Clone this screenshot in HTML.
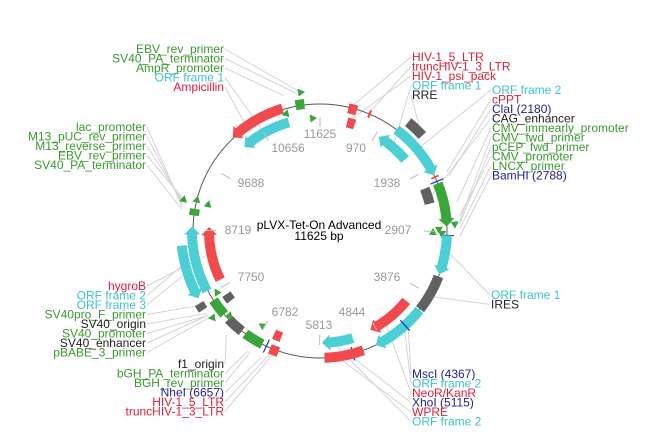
<!DOCTYPE html>
<html><head><meta charset="utf-8"><style>
body{margin:0;background:#fff;width:670px;height:448px;overflow:hidden}
svg{display:block}
text{font-family:"Liberation Sans",Arial,sans-serif;font-size:12px}
</style></head><body>
<svg id="s" width="670" height="448" xmlns="http://www.w3.org/2000/svg">
<g id="lead" stroke="#d4d4d4" stroke-width="1" fill="none"></g>
<circle cx="320" cy="231" r="127" fill="none" stroke="#555" stroke-width="1"/>
<g id="feat"></g>
<g id="ticks" stroke="#bbb" stroke-width="1"></g>
<g fill="#999" text-anchor="middle">
<text x="320" y="138">11625</text><text x="356" y="152">970</text><text x="387" y="187">1938</text>
<text x="398" y="234">2907</text><text x="387" y="281">3876</text><text x="352" y="316">4844</text>
<text x="319" y="329">5813</text><text x="285" y="316">6782</text><text x="251" y="281">7750</text>
<text x="238" y="234">8719</text><text x="251" y="187">9688</text><text x="288" y="152">10656</text>
</g>
<g fill="#000" text-anchor="middle"><text x="319" y="229">pLVX-Tet-On Advanced</text><text x="319" y="240">11625 bp</text></g>
<g id="labels"></g>
</svg>
<script>
var cx=320,cy=231,NS="http://www.w3.org/2000/svg";
function P(r,a){a=a*Math.PI/180;return [cx+r*Math.sin(a),cy-r*Math.cos(a)];}
function f(p){return p[0].toFixed(1)+","+p[1].toFixed(1);}
function add(g,tag,at,txt){var e=document.createElementNS(NS,tag);for(var k in at)e.setAttribute(k,at[k]);if(txt)e.textContent=txt;document.getElementById(g).appendChild(e);return e;}
var C={r:"#f04a4f",c:"#4ccfd4",g:"#3aa63a",k:"#616161"};
function band(a1,a2,r,col,arrow,w){w=w||10;var h=8/r*180/Math.PI;var b1=a1,b2=a2;
 if(arrow=="s")b1=a1+h; if(arrow=="e")b2=a2-h;
 var ro=r+w/2,ri=r-w/2,lg=(b2-b1)>180?1:0;
 var d="M"+f(P(ro,b1))+" A"+ro+","+ro+" 0 "+lg+" 1 "+f(P(ro,b2));
 if(arrow=="e")d+=" L"+f(P(ro+3,b2))+" L"+f(P(r,a2))+" L"+f(P(ri-3,b2));
 d+=" L"+f(P(ri,b2))+" A"+ri+","+ri+" 0 "+lg+" 0 "+f(P(ri,b1));
 if(arrow=="s")d+=" L"+f(P(ri-3,b1))+" L"+f(P(r,a1))+" L"+f(P(ro+3,b1));
 d+="Z";add("feat","path",{d:d,fill:C[col]});}
function tri(a,r,dir,col){var h=7/r*180/Math.PI;var d="M"+f(P(r+4,a))+" L"+f(P(r-4,a))+" L"+f(P(r,a+dir*h))+"Z";add("feat","path",{d:d,fill:C[col||"g"]});}
function bl(a){add("feat","line",{x1:P(120,a)[0],y1:P(120,a)[1],x2:P(134,a)[0],y2:P(134,a)[1],stroke:"#2233bb","stroke-width":1.2});}
band(317,343,128,"r","s");band(318,344,113,"c","s");
band(349,353,128,"g");tri(345,122,-1);tri(355,113,1);tri(351,140,1);
band(13,17,126,"r");band(14,18,112,"r");band(22.5,23.5,127,"r",null,8);
band(32,50,111,"c","s");band(39,47,140,"k");band(37,64,127,"c","e");
band(64.5,65.3,127,"r",null,8);bl(67);bl(92);
band(68,76,113,"k");band(68,88,127,"g","e");tri(88,119,1);tri(90,122,1);tri(86,135,1);tri(92,113,-1);
band(92,110,127,"c","e");band(111,128,127,"k");band(128.5,154,127,"c","e");band(129,153,111,"r","e");
bl(138);bl(165);band(160,178,127,"r");band(163,179,112,"c","e");
band(200,204,113,"r");band(199,203,128,"r");bl(205);
band(207,216,127,"g");tri(210,111,1);band(218,226,127,"k");
band(229,237,127,"g");band(232,236,113,"k");band(236,239,141,"k");tri(228,124,-1);tri(238,120,1);tri(232,138,-1);
band(241,264,139,"c","s");band(242,272,128,"c","e");band(244,272,111,"r","e");
band(277,280,127,"g");tri(283,127,1);tri(282,115,1);tri(282,140,1);
for(var i=0;i<12;i++){var a=i*30.03;var p1=P(104,a),p2=P(114,a);add("ticks","line",{x1:p1[0],y1:p1[1],x2:p2[0],y2:p2[1]});}
var G="#3a9a2e",R="#e0203a",Cy="#3cc4cc",N="#22229a",K="#222";
function grp(x,y0,anchor,items,target){items.forEach(function(it,i){var y=y0+i*9.5;
 add("labels","text",{x:x,y:y+4,fill:it[1],"text-anchor":anchor},it[0]);
 var t=P(it[3]||140,it[2]);var lx=anchor=="end"?x+1:x-1;
 add("lead","line",{x1:lx,y1:y,x2:t[0],y2:t[1]});});}
grp(224,49,"end",[["EBV_rev_primer",G,352],["SV40_PA_terminator",G,350],["AmpR_promoter",G,345],["ORF frame 1",Cy,330,118],["Ampicillin",R,325,132]]);
grp(146,127,"end",[["lac_promoter",G,280],["M13_pUC_rev_primer",G,281],["M13_reverse_primer",G,282],["EBV_rev_primer",G,283],["SV40_PA_terminator",G,279]]);
grp(146,286,"end",[["hygroB",R,258,115],["ORF frame 2",Cy,258,132],["ORF frame 3",Cy,252,144],["SV40pro_F_primer",G,238],["SV40_origin",K,234],["SV40_promoter",G,233],["SV40_enhancer",K,233],["pBABE_3_primer",G,232]]);
grp(224,364,"end",[["f1_origin",K,222],["bGH_PA_terminator",G,211],["BGH_rev_primer",G,210],["NheI (6657)",N,205],["HIV-1_5_LTR",R,202,132],["truncHIV-1_3_LTR",R,201,132]]);
grp(412,57,"start",[["HIV-1_5_LTR",R,15,131],["truncHIV-1_3_LTR",R,23,131],["HIV-1_psi_pack",R,16,117],["ORF frame 1",Cy,40,116],["RRE",K,43,145]]);
grp(492,90,"start",[["ORF frame 2",Cy,50,132],["cPPT",R,65],["ClaI (2180)",N,67],["CAG_enhancer",K,72,118],["CMV_immearly_promoter",G,78],["CMV_fwd_primer",G,86],["pCEP_fwd_primer",G,87],["CMV_promoter",G,84],["LNCX_primer",G,89],["BamHI (2788)",N,92]]);
grp(491,295,"start",[["ORF frame 1",Cy,100,132],["IRES",K,120,132]]);
grp(412,374,"start",[["MscI (4367)",N,138,132],["ORF frame 2",Cy,140,132],["NeoR/KanR",R,145,116],["XhoI (5115)",N,165,132],["WPRE",R,170,132],["ORF frame 2",Cy,172,116]]);
</script>
</body></html>
